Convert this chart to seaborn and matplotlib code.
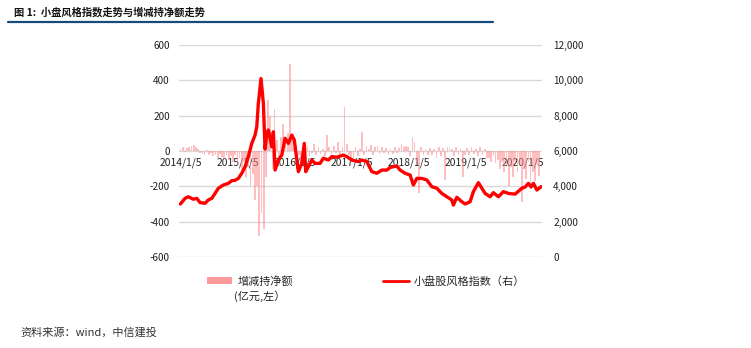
import numpy as np
import pandas as pd
import matplotlib
matplotlib.use("Agg")
import matplotlib.pyplot as plt
import matplotlib.dates as mdates
from matplotlib.patches import Patch
from matplotlib.lines import Line2D
import seaborn as sns

# ---------------- data ----------------
# net increase/decrease of holdings (100m CNY, left axis), bi-weekly
bar_start = "2014-01-03"
bar_values = [
    # 2014
    10, 25, -5, 15, 20, 30, 35, 20, 10, -10, -15, -20, 5, -25, -10, -30, -20, -40, -15, -35,
    -45, -25, -50, -30, -60, -20,
    # 2015
    -80, -40, -110, -60, -150, -90, -200, -130, -280, -200, -480, -350, -440, -150, 290,
    200, -100, 240, 60, -50, 80, 150, 40, 100, 490, 60,
    # 2016
    20, -40, -20, -60, 10, -50, 30, -30, -10, 40, -20, 20, -15, 10, -30, 90, 20, -15, 30,
    -10, 50, -20, 20, 250, 40, -20,
    # 2017
    -40, -50, 20, -30, 10, 105, -20, 30, 10, 35, -20, 25, 30, -15, 20, -10, 15, -20, 10,
    -15, 25, -10, 15, 40, 20, 30,
    # 2018
    20, -30, 80, 50, -60, -240, 20, -20, 10, -25, 15, -20, 10, -40, 20, -30, 15, -165, 20,
    15, 10, -30, 20, -20, 10, -145,
    # 2019
    -20, 15, -25, 20, -15, 10, -30, 25, -20, 10, -40, -40, -60, -30, -70, -50, -100, -60,
    -120, -80, -200, -90, -150, -60, -120, -80,
    # 2020
    -290, -100, -160, -60, -200, -120, -170, -80, -140,
]
bar_dates = pd.date_range(bar_start, periods=len(bar_values), freq="14D")

# small-cap style index (right axis)
idx_dates = [
    "2014-01-02", "2014-02-01", "2014-02-22", "2014-03-26", "2014-04-17", "2014-05-08",
    "2014-06-09", "2014-06-30", "2014-07-22", "2014-08-12", "2014-09-02", "2014-10-04",
    "2014-11-05", "2014-11-27", "2014-12-18", "2015-01-08", "2015-01-30", "2015-02-20",
    "2015-03-13", "2015-04-04", "2015-04-25", "2015-05-06", "2015-05-16", "2015-06-02",
    "2015-06-17", "2015-06-28", "2015-07-09", "2015-07-19", "2015-08-10", "2015-08-20",
    "2015-08-31", "2015-09-21", "2015-10-13", "2015-11-03", "2015-11-24", "2015-12-16",
    "2016-01-01", "2016-01-27", "2016-02-18", "2016-03-05", "2016-03-14", "2016-03-31",
    "2016-04-22", "2016-05-13", "2016-06-14", "2016-07-05", "2016-08-06", "2016-08-28",
    "2016-09-29", "2016-11-10", "2016-12-02", "2017-01-03", "2017-02-14", "2017-03-08",
    "2017-04-09", "2017-05-11", "2017-06-12", "2017-07-14", "2017-08-15", "2017-09-05",
    "2017-10-18", "2017-11-08", "2017-12-10", "2018-01-11", "2018-02-01", "2018-02-23",
    "2018-03-27", "2018-04-28", "2018-05-30", "2018-07-01", "2018-08-02", "2018-09-03",
    "2018-10-05", "2018-10-15", "2018-11-06", "2018-12-08", "2018-12-29", "2019-01-30",
    "2019-02-20", "2019-03-24", "2019-04-15", "2019-05-06", "2019-06-07", "2019-06-28",
    "2019-07-30", "2019-08-31", "2019-10-02", "2019-11-14", "2019-12-27", "2020-01-17",
    "2020-02-07", "2020-02-24", "2020-03-10", "2020-04-01", "2020-04-28",
]
idx_values = [
    3000, 3320, 3410, 3270, 3320, 3080,
    3040, 3230, 3320, 3600, 3890, 4075,
    4170, 4320, 4340, 4450, 4740, 5110,
    5680, 6435, 6900, 7380, 8700, 10100,
    8700, 6100, 7000, 7190, 6240, 7090,
    4920, 5490, 5770, 6720, 6430, 6900,
    6620, 4830, 5300, 6430, 4830, 5110,
    5490, 5300, 5300, 5590, 5490, 5680,
    5650, 5770, 5680, 5490, 5400, 5490,
    5400, 4830, 4740, 4920, 4920, 5070,
    5150, 4920, 4740, 4640, 4075, 4450,
    4450, 4360, 3980, 3890, 3600, 3410,
    3230, 2940, 3380, 3130, 3000, 3130,
    3700, 4210, 3890, 3600, 3410, 3640,
    3410, 3700, 3600, 3560, 3890, 3960,
    4170, 3960, 4170, 3790, 3980,
]

xtick_dates = ["2014-01-05", "2015-01-05", "2016-01-05", "2017-01-05",
               "2018-01-05", "2019-01-05", "2020-01-05"]
xtick_labels = ["2014/1/5", "2015/1/5", "2016/1/5", "2017/1/5",
                "2018/1/5", "2019/1/5", "2020/1/5"]
left_ticks = [600, 400, 200, 0, -200, -400, -600]
right_ticks = [12000, 10000, 8000, 6000, 4000, 2000, 0]

title = "图 1:  小盘风格指数走势与增减持净额走势"
bar_label = "增减持净额"
bar_label2 = "(亿元,左）"
line_label = "小盘股风格指数（右）"
source = "资料来源：wind，中信建投"

# ---------------- style ----------------
sns.set_theme(style="white")
plt.rcParams["font.family"] = ["Noto Sans CJK SC", "DejaVu Sans"]
plt.rcParams["axes.unicode_minus"] = False

bar_df = pd.DataFrame({"date": bar_dates, "value": bar_values})
idx_df = pd.DataFrame({"date": pd.to_datetime(idx_dates), "value": idx_values})

fig = plt.figure(figsize=(7.51, 3.48), dpi=100)
ax = fig.add_axes([0.2383, 0.2615, 0.4834, 0.6092])

# grid
ax.set_ylim(-600, 600)
ax.set_yticks(left_ticks)
ax.yaxis.grid(True, color="#D9D9D9", linewidth=1.0)
ax.set_axisbelow(True)

# bars (left axis)
ax.bar(mdates.date2num(bar_df["date"]), bar_df["value"], width=11,
       color="#FF8A8C", alpha=0.55, linewidth=0, zorder=2)

for s in ax.spines.values():
    s.set_visible(False)
ax.spines["bottom"].set_position(("data", 0))

ax.set_xlim(mdates.date2num(pd.Timestamp("2013-12-24")),
            mdates.date2num(pd.Timestamp("2020-05-04")))
ax.set_xticks(mdates.date2num(pd.to_datetime(xtick_dates)))
ax.set_xticklabels(xtick_labels)
ax.tick_params(axis="x", length=0, pad=5, labelsize=7.4, colors="#222222")
ax.tick_params(axis="y", length=0, pad=6.5, labelsize=7.2, colors="#222222")
ax.set_yticklabels([str(t) for t in left_ticks])
ax.set_xlabel("")
ax.set_ylabel("")

# line (right axis)
ax2 = ax.twinx()
sns.lineplot(x=mdates.date2num(idx_df["date"]), y=idx_df["value"], ax=ax2,
             color="#FF0000", linewidth=2.4, zorder=5)
ax2.set_ylim(0, 12000)
ax2.set_yticks(right_ticks)
ax2.set_yticklabels([f"{t:,}" for t in right_ticks])
ax2.tick_params(axis="y", length=0, pad=8, labelsize=7.2, colors="#222222")
ax2.set_xlim(ax.get_xlim())
ax2.grid(False)
for s in ax2.spines.values():
    s.set_visible(False)
ax2.set_xlabel("")
ax2.set_ylabel("")

# title and rule
fig.text(0.018, 0.965, title, fontsize=7.4, fontweight="bold", color="#111111",
         ha="left", va="center")
fig.add_artist(Line2D([0.011, 0.657], [0.937, 0.937], color="#17497A",
                      linewidth=1.6, transform=fig.transFigure))

# legends
leg1 = fig.legend(handles=[Patch(facecolor="#FF9A9C", edgecolor="none")],
                  labels=[bar_label], loc="center left",
                  bbox_to_anchor=(0.262, 0.192), frameon=False, fontsize=8,
                  handlelength=2.3, handleheight=0.5, handletextpad=0.45)
fig.text(0.311, 0.148, bar_label2, fontsize=8, ha="left", va="center", color="#222222")
leg2 = fig.legend(handles=[Line2D([0], [0], color="#FF0000", linewidth=2.0)],
                  labels=[line_label], loc="center left",
                  bbox_to_anchor=(0.497, 0.192), frameon=False, fontsize=8,
                  handlelength=2.3, handletextpad=0.45)

# source
fig.text(0.027, 0.045, source, fontsize=8, ha="left", va="center", color="#333333",
         style="italic")

fig.savefig("out.png", dpi=100)
